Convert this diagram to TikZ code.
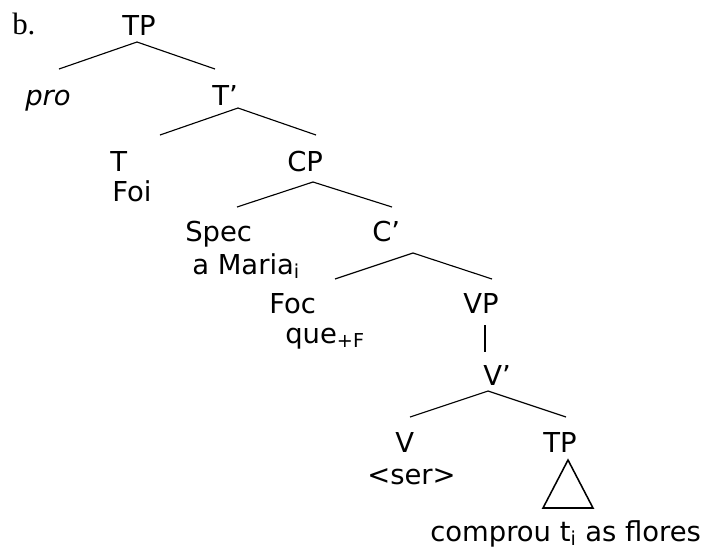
\documentclass[tikz,border=0pt]{standalone}
\usepackage{fontspec}
\setmainfont{DejaVu Sans}
\newfontfamily\serifb{Liberation Serif}

\begin{document}
\begin{tikzpicture}[x = 0.025cm, y = -0.025cm,
	lbl/.style = {anchor = base west, inner sep = 0pt, font = \fontsize{19.5}{23}\selectfont},
	branch/.style = {line width = 0.8pt}]
	\useasboundingbox (0, 0) rectangle (704, 554);

	\node[anchor = base west, inner sep = 0pt, font = \fontsize{22}{26}\selectfont\serifb] (ex) at (12, 34) {b.};

	\node[lbl] (TP) at (122, 35) {TP};
	\node[lbl] (pro) at (25, 105) {\itshape pro};
	\node[lbl] (Tbar) at (212, 105) {T’};
	\node[lbl] (T) at (110, 171) {T};
	\node[lbl] (Foi) at (112, 201) {Foi};
	\node[lbl] (CP) at (287, 171) {CP};
	\node[lbl] (Spec) at (185, 241) {Spec};
	\node[lbl] (Maria) at (192, 274) {a Maria\textsubscript{i}};
	\node[lbl] (Cbar) at (372, 241) {C’};
	\node[lbl] (Foc) at (269, 313) {Foc};
	\node[lbl] (que) at (285, 343) {que\textsubscript{+F}};
	\node[lbl] (VP) at (463, 313) {VP};
	\node[lbl] (Vbar) at (483, 385) {V’};
	\node[lbl] (V) at (395, 452) {V};
	\node[lbl] (ser) at (367, 484) {<ser>};
	\node[lbl] (TPlow) at (543, 452) {TP};
	\node[lbl] (flores) at (430, 541) {comprou t\textsubscript{i} as flores};

	\coordinate (TP-a) at (137, 42);
	\coordinate (TP-l) at (59, 69);
	\coordinate (TP-r) at (215, 69);
	\coordinate (Tbar-a) at (238, 108);
	\coordinate (Tbar-l) at (160, 135);
	\coordinate (Tbar-r) at (316, 135);
	\coordinate (CP-a) at (313, 182);
	\coordinate (CP-l) at (237, 207);
	\coordinate (CP-r) at (392, 207);
	\coordinate (Cbar-a) at (413, 253);
	\coordinate (Cbar-l) at (335, 279);
	\coordinate (Cbar-r) at (492, 279);
	\coordinate (VP-a) at (485, 325);
	\coordinate (VP-b) at (485, 352);
	\coordinate (Vbar-a) at (488, 391);
	\coordinate (Vbar-l) at (410, 417);
	\coordinate (Vbar-r) at (566, 417);
	\coordinate (tri-a) at (568, 460);
	\coordinate (tri-l) at (543, 508);
	\coordinate (tri-r) at (593, 508);

	\draw[branch] (TP-l) -- (TP-a) -- (TP-r);
	\draw[branch] (Tbar-l) -- (Tbar-a) -- (Tbar-r);
	\draw[branch] (CP-l) -- (CP-a) -- (CP-r);
	\draw[branch] (Cbar-l) -- (Cbar-a) -- (Cbar-r);
	\draw[branch] (VP-a) -- (VP-b);
	\draw[branch] (Vbar-l) -- (Vbar-a) -- (Vbar-r);
	\draw[branch, line width = 1.1pt, line join = miter] (tri-a) -- (tri-l) -- (tri-r) -- cycle;
\end{tikzpicture}
\end{document}
